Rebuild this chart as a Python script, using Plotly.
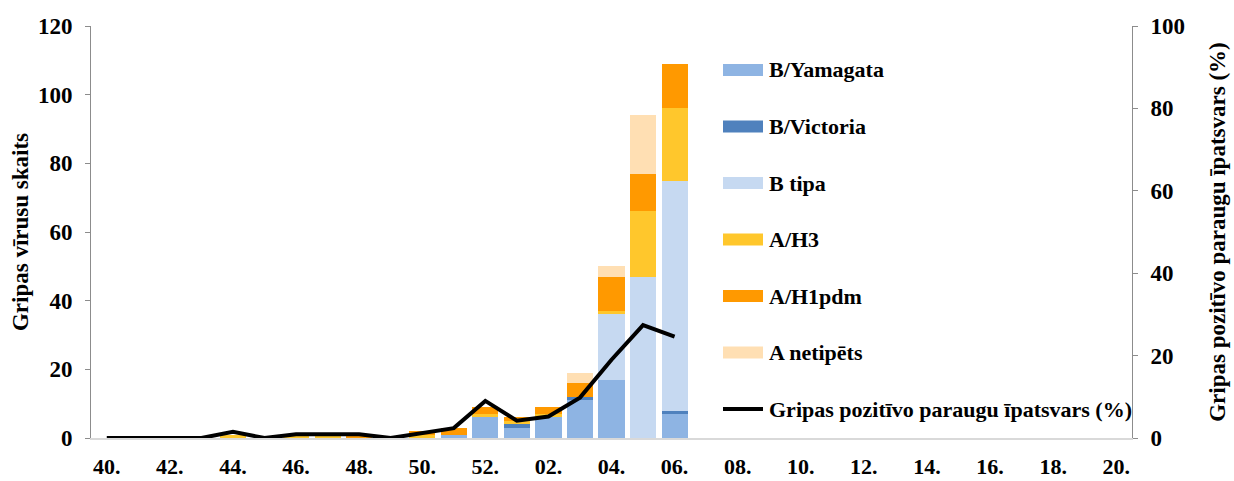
import plotly.graph_objects as go

# Season weeks 40 … 20
weeks = [str(w) for w in range(40, 53)] + [f"{w:02d}" for w in range(1, 21)]
tick_weeks = weeks[::2]
tick_text = [w + "." for w in tick_weeks]

# Virus counts per week (weeks 40 … 06); later weeks have no data
b_yamagata = [0, 0, 0, 0, 0, 0, 0, 0, 0, 0, 0, 1, 6, 3, 6, 11, 17, 0, 7]
b_victoria = [0, 0, 0, 0, 0, 0, 0, 0, 0, 0, 0, 0, 0, 1, 0, 1, 0, 0, 1]
b_tipa     = [0, 0, 0, 0, 0, 0, 0, 0, 0, 0, 0, 0, 0, 0, 0, 0, 19, 47, 67]
a_h3       = [0, 0, 0, 0, 1, 0, 1, 1, 0, 0, 1, 0, 1, 1, 1, 0, 1, 19, 21]
a_h1pdm    = [0, 0, 0, 0, 0, 0, 0, 0, 1, 0, 1, 2, 2, 1, 2, 4, 10, 11, 13]
a_netip    = [0, 0, 0, 0, 0, 0, 0, 0, 0, 0, 0, 0, 0, 0, 0, 3, 3, 17, 0]

# Share of influenza-positive samples, %
positive_pct = [0, 0, 0, 0, 1.5, 0, 0.9, 0.9, 0.9, 0, 1.1, 2.4, 9.0, 4.2, 5.2,
                9.8, 19.0, 27.4, 24.6]

series = [
    ("B/Yamagata", b_yamagata, "#8EB4E3"),
    ("B/Victoria", b_victoria, "#4F81BD"),
    ("B tipa", b_tipa, "#C6D9F1"),
    ("A/H3", a_h3, "#FFC72C"),
    ("A/H1pdm", a_h1pdm, "#FF9900"),
    ("A netipēts", a_netip, "#FFDFB3"),
]
line_name = "Gripas pozitīvo paraugu īpatsvars (%)"

FONT = "Liberation Serif"
W, H = 1234, 481
ML, MR, MT, MB = 91, 102, 26, 43
PW, PH = W - ML - MR, H - MT - MB

fig = go.Figure()
n = len(positive_pct)
for name, vals, color in series:
    fig.add_trace(go.Bar(
        x=weeks[:n], y=vals, name=name, marker_color=color,
        marker_line_width=0, showlegend=False, yaxis="y",
    ))
fig.add_trace(go.Scatter(
    x=weeks[:n], y=positive_pct, name=line_name, mode="lines",
    line=dict(color="black", width=4), yaxis="y2", showlegend=False,
))


def px_x(px):
    return (px - ML) / PW


def px_y(py):
    return (H - MB - py) / PH


# Legend built from swatches and text labels
shapes = []
annotations = []
row0, row_step = 70, 56.5
for i, (name, _, color) in enumerate(series):
    cy = row0 + i * row_step
    shapes.append(dict(type="rect", xref="paper", yref="paper",
                       x0=px_x(723), x1=px_x(763),
                       y0=px_y(cy + 6), y1=px_y(cy - 6),
                       fillcolor=color, line_width=0))
    annotations.append(dict(text=f"<b>{name}</b>", xref="paper", yref="paper",
                            x=px_x(767), y=px_y(cy), xanchor="left",
                            yanchor="middle", showarrow=False,
                            font=dict(family=FONT, size=22, color="black")))
cy = row0 + len(series) * row_step
shapes.append(dict(type="line", xref="paper", yref="paper",
                   x0=px_x(723), x1=px_x(763), y0=px_y(cy), y1=px_y(cy),
                   line=dict(color="black", width=4)))
annotations.append(dict(text=f"<b>{line_name}</b>", xref="paper", yref="paper",
                        x=px_x(767), y=px_y(cy), xanchor="left",
                        yanchor="middle", showarrow=False,
                        font=dict(family=FONT, size=22, color="black")))

tick_font = dict(family=FONT, size=23, color="black")
title_font = dict(family=FONT, size=23, color="black")

fig.update_layout(
    width=W, height=H,
    margin=dict(l=ML, r=MR, t=MT, b=MB, autoexpand=False),
    paper_bgcolor="white", plot_bgcolor="white",
    barmode="stack", bargap=0.17,
    shapes=shapes, annotations=annotations,
    xaxis=dict(
        type="category", categoryorder="array", categoryarray=weeks,
        range=[-0.5, len(weeks) - 0.5], automargin=False,
        tickmode="array", tickvals=tick_weeks, ticktext=[f"<b>{t}</b>" for t in tick_text],
        tickfont=dict(family=FONT, size=22, color="black"),
        showgrid=False, ticks="", ticklabelstandoff=8,
        showline=True, linecolor="#D9D9D9", linewidth=1.5,
        zeroline=False,
    ),
    yaxis=dict(
        range=[0, 120], dtick=20, showgrid=False, zeroline=False,
        automargin=False,
        showline=True, linecolor="#8C8C8C", linewidth=1,
        ticks="outside", ticklen=5, tickcolor="#8C8C8C",
        tickfont=tick_font, tickprefix="<b>", ticksuffix="</b>",
        ticklabelstandoff=8,
        title=dict(text="<b>Gripas vīrusu skaits</b>", font=title_font, standoff=2),
    ),
    yaxis2=dict(
        range=[0, 100], dtick=20, overlaying="y", side="right",
        showgrid=False, zeroline=False, automargin=False,
        showline=True, linecolor="#8C8C8C", linewidth=1,
        ticks="outside", ticklen=5, tickcolor="#8C8C8C",
        tickfont=tick_font, tickprefix="<b>", ticksuffix="</b>",
        ticklabelstandoff=8,
        title=dict(text="<b>Gripas pozitīvo paraugu īpatsvars (%)</b>",
                   font=title_font, standoff=24),
    ),
    showlegend=False,
)

fig.write_html("out.html")
